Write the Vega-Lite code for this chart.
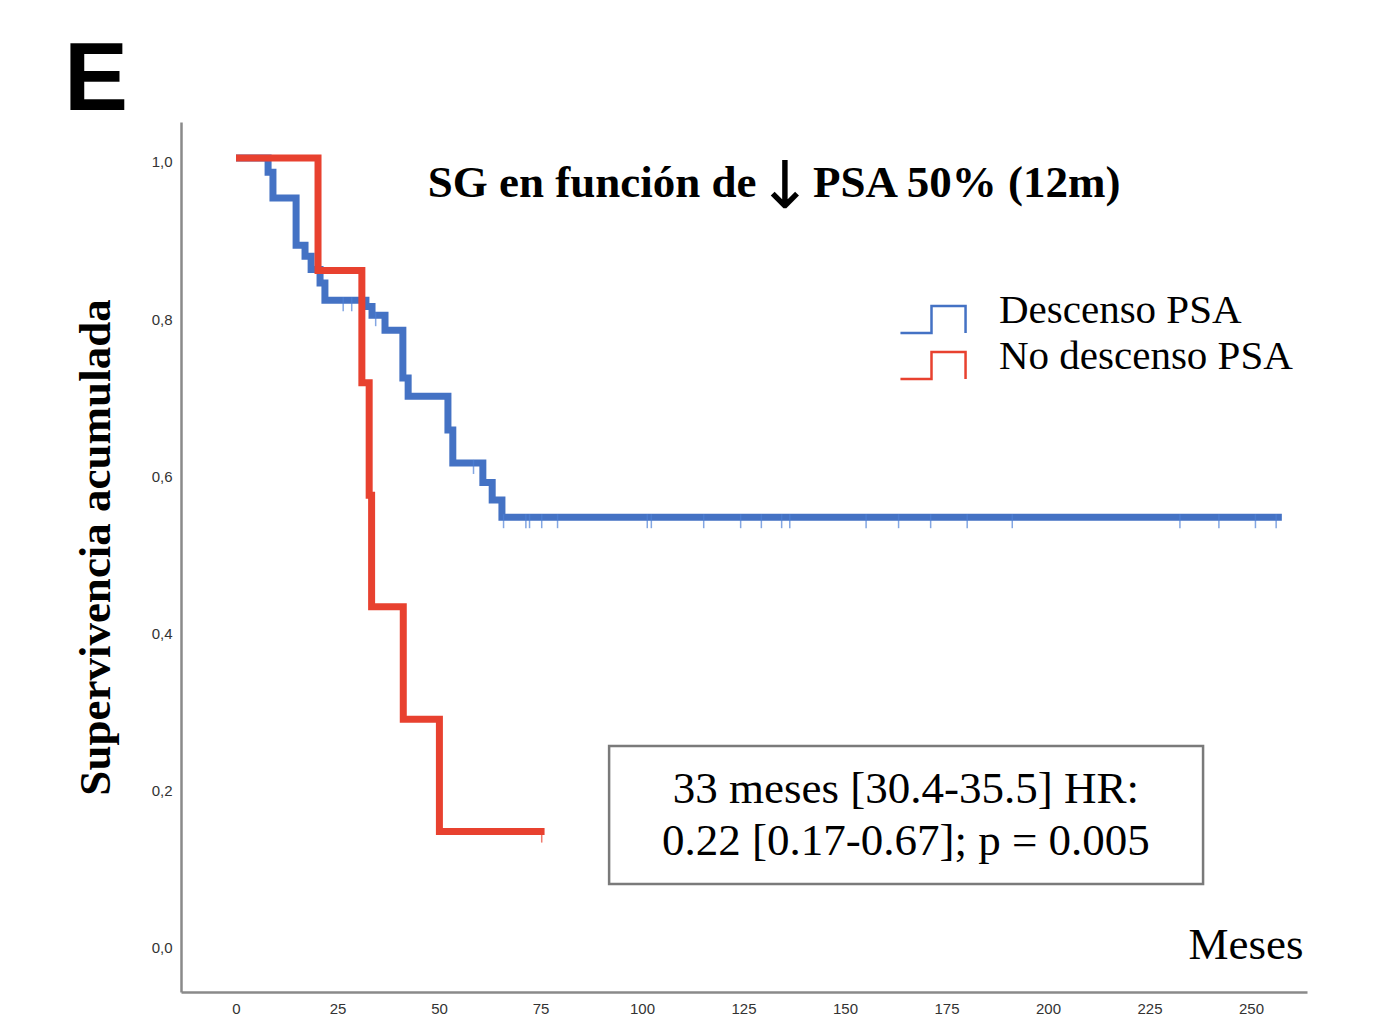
{
  "$schema": "https://vega.github.io/schema/vega-lite/v6.json",
  "autosize": {"type": "none"},
  "width": 1126,
  "height": 870,
  "padding": {"left": 181, "top": 122, "right": 83, "bottom": 25},
  "background": "white",
  "title": {
    "text": "E",
    "anchor": "start",
    "frame": "group",
    "font": "Liberation Sans",
    "fontSize": 96,
    "fontWeight": "bold",
    "color": "black",
    "dx": -117,
    "offset": -8
  },
  "config": {
    "view": {"stroke": null},
    "axis": {"grid": false, "ticks": false, "tickSize": 0, "domainColor": "#8a8a8a", "domainWidth": 2.5, "labelFont": "Liberation Sans", "labelFontSize": 15, "labelColor": "#333333"}
  },
  "datasets": {
    "curves": [
      {"grupo": "Descenso PSA", "t": 0, "s": 1.0},
      {"grupo": "Descenso PSA", "t": 7.9, "s": 0.982},
      {"grupo": "Descenso PSA", "t": 9.1, "s": 0.949},
      {"grupo": "Descenso PSA", "t": 14.8, "s": 0.889},
      {"grupo": "Descenso PSA", "t": 17.0, "s": 0.875},
      {"grupo": "Descenso PSA", "t": 18.5, "s": 0.858},
      {"grupo": "Descenso PSA", "t": 20.7, "s": 0.841},
      {"grupo": "Descenso PSA", "t": 21.9, "s": 0.819},
      {"grupo": "Descenso PSA", "t": 32.0, "s": 0.811},
      {"grupo": "Descenso PSA", "t": 33.5, "s": 0.8},
      {"grupo": "Descenso PSA", "t": 36.7, "s": 0.781},
      {"grupo": "Descenso PSA", "t": 41.1, "s": 0.72},
      {"grupo": "Descenso PSA", "t": 42.4, "s": 0.697},
      {"grupo": "Descenso PSA", "t": 52.2, "s": 0.654},
      {"grupo": "Descenso PSA", "t": 53.4, "s": 0.612},
      {"grupo": "Descenso PSA", "t": 60.8, "s": 0.587},
      {"grupo": "Descenso PSA", "t": 63.1, "s": 0.565},
      {"grupo": "Descenso PSA", "t": 65.5, "s": 0.543},
      {"grupo": "Descenso PSA", "t": 257.6, "s": 0.543},
      {"grupo": "No descenso PSA", "t": 0, "s": 1.0},
      {"grupo": "No descenso PSA", "t": 20.2, "s": 0.857},
      {"grupo": "No descenso PSA", "t": 31.0, "s": 0.714},
      {"grupo": "No descenso PSA", "t": 32.8, "s": 0.571},
      {"grupo": "No descenso PSA", "t": 33.4, "s": 0.429},
      {"grupo": "No descenso PSA", "t": 41.2, "s": 0.286},
      {"grupo": "No descenso PSA", "t": 50.1, "s": 0.143},
      {"grupo": "No descenso PSA", "t": 76.0, "s": 0.143}
    ],
    "censored": [
      {"grupo": "Descenso PSA", "t": 26.4, "s": 0.819},
      {"grupo": "Descenso PSA", "t": 28.5, "s": 0.819},
      {"grupo": "Descenso PSA", "t": 34.4, "s": 0.8},
      {"grupo": "Descenso PSA", "t": 58.5, "s": 0.612},
      {"grupo": "Descenso PSA", "t": 65.9, "s": 0.543},
      {"grupo": "Descenso PSA", "t": 71.4, "s": 0.543},
      {"grupo": "Descenso PSA", "t": 72.3, "s": 0.543},
      {"grupo": "Descenso PSA", "t": 75.3, "s": 0.543},
      {"grupo": "Descenso PSA", "t": 79.2, "s": 0.543},
      {"grupo": "Descenso PSA", "t": 101.3, "s": 0.543},
      {"grupo": "Descenso PSA", "t": 102.3, "s": 0.543},
      {"grupo": "Descenso PSA", "t": 115.2, "s": 0.543},
      {"grupo": "Descenso PSA", "t": 124.3, "s": 0.543},
      {"grupo": "Descenso PSA", "t": 129.4, "s": 0.543},
      {"grupo": "Descenso PSA", "t": 134.4, "s": 0.543},
      {"grupo": "Descenso PSA", "t": 136.4, "s": 0.543},
      {"grupo": "Descenso PSA", "t": 155.2, "s": 0.543},
      {"grupo": "Descenso PSA", "t": 163.2, "s": 0.543},
      {"grupo": "Descenso PSA", "t": 171.1, "s": 0.543},
      {"grupo": "Descenso PSA", "t": 180.1, "s": 0.543},
      {"grupo": "Descenso PSA", "t": 191.2, "s": 0.543},
      {"grupo": "Descenso PSA", "t": 232.5, "s": 0.543},
      {"grupo": "Descenso PSA", "t": 242.1, "s": 0.543},
      {"grupo": "Descenso PSA", "t": 251.1, "s": 0.543},
      {"grupo": "Descenso PSA", "t": 256.2, "s": 0.543},
      {"grupo": "No descenso PSA", "t": 75.3, "s": 0.143}
    ]
  },
  "layer": [
    {
      "data": {"values": [{}]},
      "mark": {"type": "rect", "fill": "white", "stroke": "#7a7a7a", "strokeWidth": 2.5},
      "encoding": {
        "x": {"datum": 91.9, "type": "quantitative"},
        "x2": {"datum": 238.2},
        "y": {"datum": 0.2519, "type": "quantitative"},
        "y2": {"datum": 0.0763}
      }
    },
    {
      "data": {"values": [{}]},
      "mark": {"type": "text", "text": ["33 meses [30.4-35.5] HR:", "0.22 [0.17-0.67]; p = 0.005"], "font": "Liberation Serif", "fontSize": 45, "lineHeight": 52, "align": "center", "baseline": "alphabetic", "color": "black"},
      "encoding": {
        "x": {"datum": 165.0, "type": "quantitative"},
        "y": {"datum": 0.1794, "type": "quantitative"}
      }
    },
    {
      "data": {"values": [{}]},
      "mark": {"type": "text", "text": "SG en función de", "font": "Liberation Serif", "fontSize": 45, "fontWeight": "bold", "align": "right", "baseline": "alphabetic", "color": "black"},
      "encoding": {
        "x": {"datum": 128.2, "type": "quantitative"},
        "y": {"datum": 0.9504, "type": "quantitative"}
      }
    },
    {
      "data": {"values": [{}]},
      "mark": {"type": "text", "text": "↓", "font": "DejaVu Sans", "fontSize": 66, "fontWeight": "normal", "align": "center", "baseline": "alphabetic", "color": "black", "dy": 11},
      "encoding": {
        "x": {"datum": 135.2, "type": "quantitative"},
        "y": {"datum": 0.9504, "type": "quantitative"}
      }
    },
    {
      "data": {"values": [{}]},
      "mark": {"type": "text", "text": "PSA 50% (12m)", "font": "Liberation Serif", "fontSize": 45, "fontWeight": "bold", "align": "left", "baseline": "alphabetic", "color": "black"},
      "encoding": {
        "x": {"datum": 142.1, "type": "quantitative"},
        "y": {"datum": 0.9504, "type": "quantitative"}
      }
    },
    {
      "data": {"name": "curves"},
      "mark": {"type": "line", "interpolate": "step-after", "strokeWidth": 7, "strokeCap": "butt", "strokeJoin": "miter"},
      "encoding": {
        "x": {
          "field": "t", "type": "quantitative",
          "scale": {"domain": [-13.55, 263.8], "nice": false, "zero": false},
          "axis": {"values": [0, 25, 50, 75, 100, 125, 150, 175, 200, 225, 250], "labelPadding": 9, "title": "Meses", "titleFont": "Liberation Serif", "titleFontSize": 45, "titleFontWeight": "normal", "titleColor": "black", "titleX": 1122, "titleY": -34, "titleAlign": "right", "titleBaseline": "alphabetic", "titleAnchor": null}
        },
        "y": {
          "field": "s", "type": "quantitative",
          "scale": {"domain": [-0.0611, 1.0458], "nice": false, "zero": false},
          "axis": {"values": [0, 0.2, 0.4, 0.6, 0.8, 1.0], "labelExpr": "replace(format(datum.value, '.1f'), '.', ',')", "labelPadding": 9, "labelOffset": 4, "title": "Supervivencia acumulada", "titleFont": "Liberation Serif", "titleFontSize": 45, "titleFontWeight": "bold", "titleColor": "black", "titleAngle": -90, "titleX": -72, "titleY": 425, "titleAlign": "center", "titleBaseline": "alphabetic"}
        },
        "color": {
          "field": "grupo", "type": "nominal",
          "scale": {"domain": ["Descenso PSA", "No descenso PSA"], "range": ["#4472C4", "#E8412F"]},
          "legend": {"orient": "none", "legendX": 731.5, "legendY": 177, "title": null, "padding": 0, "symbolType": "M -2.17 0.9 L -0.1 0.9 L -0.1 -0.9 L 2.17 -0.9 L 2.17 0.9", "symbolSize": 900, "symbolStrokeWidth": 2.5, "symbolFillColor": "transparent", "labelFont": "Liberation Serif", "labelFontSize": 41, "labelColor": "black", "labelOffset": 45.5, "labelLimit": 0, "rowPadding": -3,
            "encode": {"symbols": {"update": {"fill": {"value": "transparent"}, "strokeWidth": {"value": 2.5}}}, "labels": {"update": {"dy": {"value": -9}}}}}
        },
        "order": {"field": "t", "type": "quantitative"}
      }
    },
    {
      "data": {"name": "censored"},
      "transform": [{"filter": "datum.grupo === 'Descenso PSA'"}],
      "mark": {"type": "tick", "orient": "vertical", "size": 14, "thickness": 1.5, "yOffset": 4, "color": "#4F80D6"},
      "encoding": {
        "x": {"field": "t", "type": "quantitative"},
        "y": {"field": "s", "type": "quantitative"}
      }
    },
    {
      "data": {"name": "censored"},
      "transform": [{"filter": "datum.grupo === 'No descenso PSA'"}],
      "mark": {"type": "tick", "orient": "vertical", "size": 14, "thickness": 1.5, "yOffset": 4, "color": "#E8412F"},
      "encoding": {
        "x": {"field": "t", "type": "quantitative"},
        "y": {"field": "s", "type": "quantitative"}
      }
    }
  ]
}
